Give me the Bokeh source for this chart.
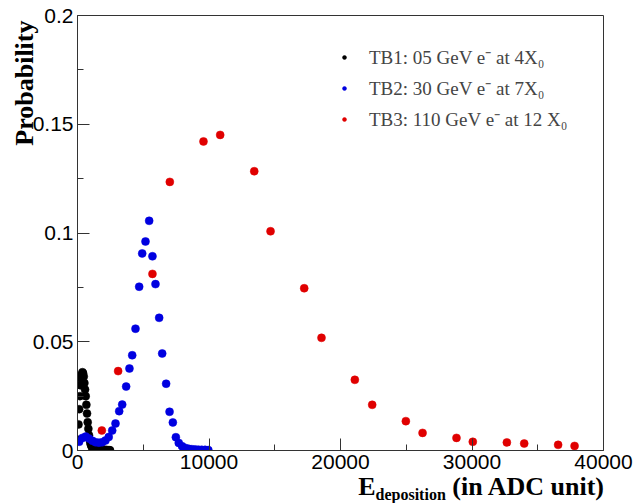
from bokeh.plotting import figure
from bokeh.models import ColumnDataSource, FixedTicker, Legend, LegendItem, Title, Div
from bokeh.layouts import column
from bokeh.embed import file_html
from bokeh.resources import INLINE

# ---------------- data ----------------
tb1_x = [25, 75, 125, 175, 225, 275, 325, 375, 425, 475, 525, 575, 625, 675, 725,
         775, 825, 875, 925, 975, 1025, 1075, 1125, 1175, 1225, 1275, 1325, 1375,
         1425, 1475, 1525, 1575, 1625, 1675, 1725, 1775, 1825, 1875, 1925, 1975,
         2025, 2075, 2125, 2175, 2225, 2275, 2325, 2375, 2425, 2475]
tb1_y = [0.005, 0.012, 0.019, 0.025, 0.030, 0.033, 0.035, 0.036, 0.0355, 0.034,
         0.031, 0.028, 0.025, 0.021, 0.017, 0.013, 0.010, 0.007, 0.005, 0.0035,
         0.0025, 0.0018, 0.0013, 0.0010, 0.0009, 0.0008, 0.0007, 0.0007, 0.0006,
         0.0006, 0.0005, 0.0005, 0.0005, 0.0004, 0.0004, 0.0004, 0.0003, 0.0003,
         0.0003, 0.0003, 0.0002, 0.0002, 0.0002, 0.0002, 0.0002, 0.0001, 0.0001,
         0.0001, 0.0001, 0.0001]

tb2_x = [125, 375, 625, 875, 1125, 1375, 1625, 1875, 2125, 2375, 2640, 2890, 3170,
         3400, 3700, 3950, 4160, 4410, 4690, 4920, 5170, 5450, 5700, 5930, 6210,
         6440, 6740, 7000, 7250, 7480, 7700, 7950, 8200, 8450, 8700, 8950, 9200,
         9450, 9700, 9950]
tb2_y = [0.0040, 0.0058, 0.0064, 0.0055, 0.0045, 0.0038, 0.0036, 0.0038, 0.0046,
         0.0062, 0.0092, 0.0124, 0.0181, 0.0211, 0.0294, 0.0377, 0.0438, 0.0560,
         0.0753, 0.0906, 0.0961, 0.1056, 0.0893, 0.0765, 0.0610, 0.0446, 0.0307,
         0.0178, 0.0129, 0.0061, 0.0035, 0.0020, 0.0012, 0.0008, 0.0006, 0.0005,
         0.0004, 0.0003, 0.0003, 0.0002]

tb3_x = [1850, 3090, 5700, 7020, 9580, 10850, 13440, 14680, 17240, 18555, 21090,
         22410, 24970, 26240, 28820, 30060, 32650, 33970, 36550, 37800]
tb3_y = [0.0092, 0.0365, 0.0812, 0.1235, 0.1421, 0.1451, 0.1284, 0.1008, 0.0746,
         0.0518, 0.0325, 0.0210, 0.0135, 0.0081, 0.0058, 0.0040, 0.0037, 0.0032,
         0.0026, 0.0021]

series_labels = ["TB1: 05 GeV e\u207b at 4X\u2080",
                 "TB2: 30 GeV e\u207b at 7X\u2080",
                 "TB3: 110 GeV e\u207b at 12 X\u2080"]
series_colors = ["black", "#0000e0", "#e00000"]

x_ticks = [0, 10000, 20000, 30000, 40000]
x_minor = [5000, 15000, 25000, 35000]
y_ticks = [0, 0.05, 0.1, 0.15, 0.2]
y_minor = [0.025, 0.075, 0.125, 0.175]
y_tick_labels = ["0", "0.05", "0.1", "0.15", "0.2"]

serif = "Liberation Serif"

# ---------------- figure ----------------
p = figure(width=640, height=476, output_backend="svg", toolbar_location=None,
           x_range=(0, 40000), y_range=(0, 0.2),
           min_border_left=77, min_border_right=37, min_border_top=15,
           min_border_bottom=26)
p.xgrid.visible = False
p.ygrid.visible = False
p.outline_line_color = "#333333"
p.outline_line_width = 1

srcs = [ColumnDataSource(dict(x=tb1_x, y=tb1_y)),
        ColumnDataSource(dict(x=tb2_x, y=tb2_y)),
        ColumnDataSource(dict(x=tb3_x, y=tb3_y))]
renderers = []
for src, col in zip(srcs, series_colors):
    r = p.scatter("x", "y", source=src, size=8, fill_color=col,
                  line_color=col, line_width=0.5)
    renderers.append(r)

# axes
for ax in (p.xaxis[0], p.yaxis[0]):
    ax.axis_line_color = "#333333"
    ax.major_tick_line_color = "#333333"
    ax.minor_tick_line_color = "#333333"
    ax.major_tick_in = 12
    ax.major_tick_out = 0
    ax.minor_tick_in = 6
    ax.minor_tick_out = 0
    ax.major_label_text_font = "Liberation Sans"
    ax.major_label_text_font_size = "21px"
    ax.major_label_text_color = "black"
    ax.major_label_standoff = 4

p.xaxis.ticker = FixedTicker(ticks=x_ticks, minor_ticks=x_minor)
p.yaxis.ticker = FixedTicker(ticks=y_ticks, minor_ticks=y_minor)
p.yaxis.major_label_overrides = {t: s for t, s in zip(y_ticks, y_tick_labels)}
p.xaxis.major_label_overrides = {t: str(t) for t in x_ticks}

# y-axis title (top-aligned, like ROOT)
p.add_layout(Title(text="Probability", align="right", offset=5, standoff=-19,
                   text_font=serif, text_font_style="bold",
                   text_font_size="26px", text_color="black"), "left")

# legend
legend = Legend(items=[LegendItem(label=l, renderers=[r])
                       for l, r in zip(series_labels, renderers)],
                location=(262, 317), orientation="vertical",
                background_fill_alpha=0, border_line_alpha=0,
                label_text_font=serif, label_text_font_size="19px",
                label_height=28, glyph_height=28, glyph_width=10,
                label_standoff=20, spacing=3, padding=0, margin=0)
p.add_layout(legend)

# x-axis title with subscript (right-aligned, like ROOT)
xlabel = Div(
    text=('<div style="width:604px;text-align:right;white-space:nowrap;'
          'font-family:\'Liberation Serif\';font-weight:bold;font-size:26px;'
          'line-height:22px;color:black">E<span style="font-size:16px;'
          'vertical-align:-5px;line-height:0">deposition</span> (in ADC unit)</div>'),
    width=640, height=27, margin=0)

page = column(p, xlabel, spacing=0)

open("out.html", "w").write(file_html(page, INLINE))
